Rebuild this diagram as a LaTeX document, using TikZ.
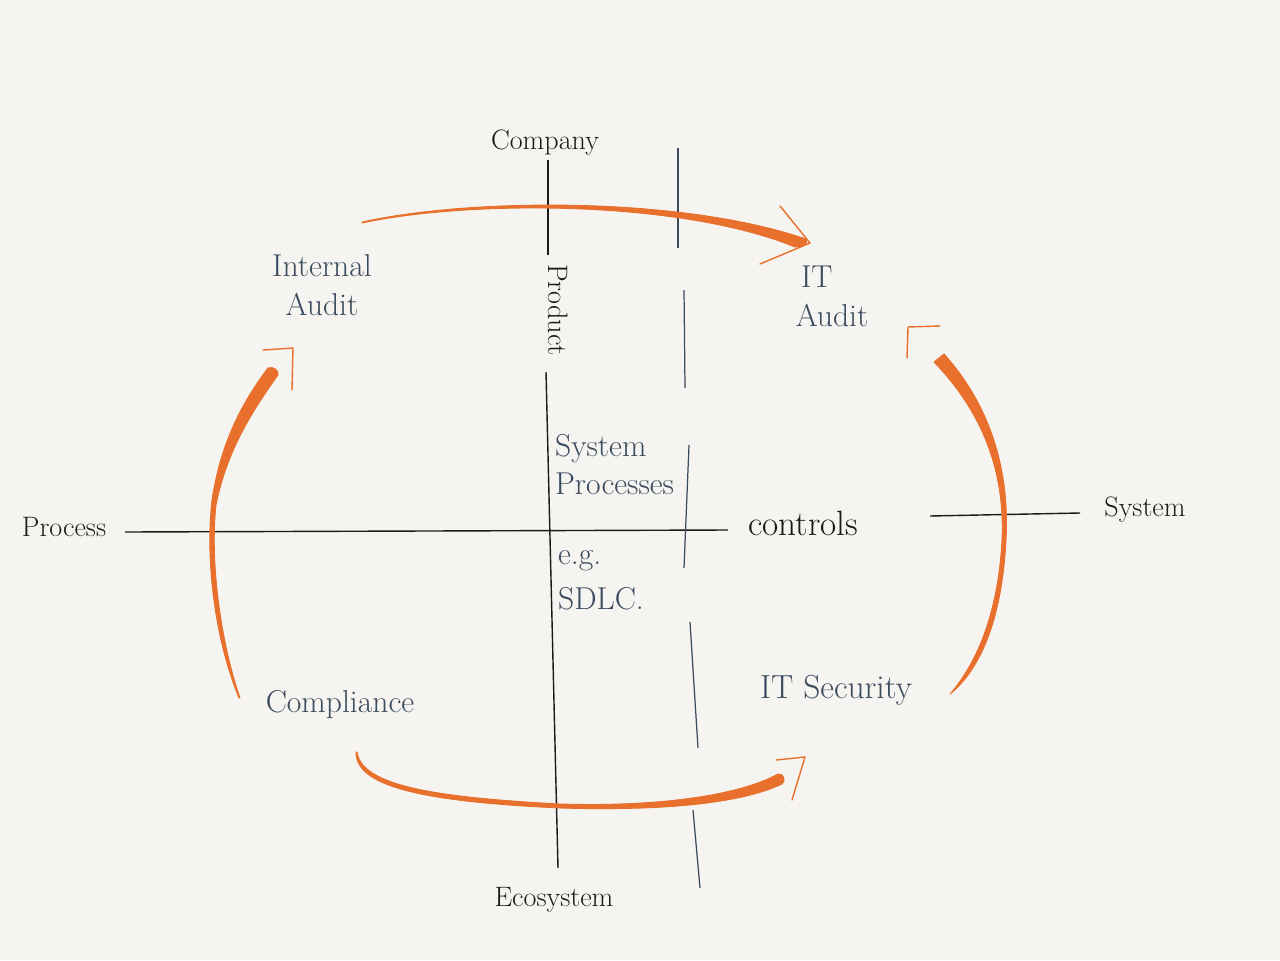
\documentclass[tikz,border=0pt]{standalone}
\usetikzlibrary{positioning}

\definecolor{paper}{HTML}{F5F4F0}
\definecolor{ink}{HTML}{1A1A1A}
\definecolor{slate}{HTML}{3B4B5E}
\definecolor{marker}{HTML}{E8702C}

\tikzset{
  axis/.style={draw=ink, line width=0.8pt},
  divider/.style={draw=slate, line width=0.7pt},
  axislabel/.style={text=ink, font=\fontsize{16}{18}\selectfont, inner sep=1pt},
  area/.style={text=slate, font=\fontsize{18}{22}\selectfont, align=center, inner sep=1pt},
  stroke/.style={fill=marker, draw=marker, line width=0.5pt, line join=round},
  tip/.style={draw=marker, line width=0.8pt, line cap=round, line join=round}
}

\begin{document}
\begin{tikzpicture}[x=0.02cm, y=-0.02cm]
\useasboundingbox[fill=paper] (0,0) rectangle (1280,960);

% axis labels
\node[axislabel] (company) at (545,143) {Company};
\node[axislabel] (ecosystem) at (554,900) {Ecosystem};
\node[axislabel] (process) at (64,527) {Process};
\node[axislabel, font=\fontsize{20}{22}\selectfont] (controls) at (803,523) {controls};
\node[axislabel] (system) at (1145,510) {System};
\node[axislabel, rotate=-90] (product) at (558,310) {Product};

% areas
\node[area] (internal) at (322,285) {Internal\\Audit};
\node[area, align=left] (itaudit) at (832,296) {\,IT\\Audit};
\node[area, align=left, anchor=north west] (sysproc) at (553,432) {System\\Processes};
\node[area, align=left, anchor=north west] (sdlc) at (556,548) {e.g.\\[4pt]SDLC.};
\node[area] (compliance) at (340,705) {Compliance};
\node[area, font=\fontsize{19}{22}\selectfont] (itsec) at (836,690) {IT Security};

% axis ends
\coordinate (top) at (548,160);
\coordinate (topgap) at (548,255);
\coordinate (midgap) at (546,372);
\coordinate (bottom) at (558,868);
\coordinate (left) at (125,532);
\coordinate (leftend) at (728,530);
\coordinate (rightstart) at (930,516);
\coordinate (right) at (1080,513);

% axes
\draw[axis] (top) -- (topgap);
\draw[axis] (midgap) -- (bottom);
\draw[axis] (left) -- (leftend);
\draw[axis] (rightstart) -- (right);

% dividing line
\draw[divider] (678,148) -- (678,248);
\draw[divider] (684,290) -- (685,388);
\draw[divider] (689,445) -- (684,568);
\draw[divider] (690,622) -- (698,748);
\draw[divider] (693,810) -- (700,888);

% arrows
\fill[stroke] (362,222) .. controls (470,198) and (680,196) .. (806,239)
  .. controls (809,244) and (802,248) .. (795,247)
  .. controls (680,200) and (470,200) .. (362,223) -- cycle;
\draw[tip] (780,206) -- (810,243) -- (760,264);

\fill[stroke] (944,354) .. controls (990,405) and (1010,470) .. (1006,540)
  .. controls (1002,620) and (980,670) .. (950,694)
  .. controls (976,664) and (998,615) .. (1002,540)
  .. controls (1005,470) and (982,412) .. (934,362) -- cycle;
\draw[tip] (907,358) -- (908,327) -- (940,326);

\fill[stroke] (239,698) .. controls (215,640) and (205,560) .. (212,500)
  .. controls (221,440) and (244,400) .. (268,368)
  .. controls (273,366) and (279,370) .. (278,375)
  .. controls (253,410) and (227,450) .. (216,505)
  .. controls (210,560) and (220,640) .. (240,698) -- cycle;
\draw[tip] (263,350) -- (293,348) -- (292,390);

\fill[stroke] (357,752) .. controls (362,785) and (430,797) .. (560,804)
  .. controls (660,807) and (740,795) .. (778,774)
  .. controls (784,773) and (786,781) .. (782,784)
  .. controls (740,804) and (660,811) .. (560,808)
  .. controls (430,802) and (355,788) .. (356,752) -- cycle;
\draw[tip] (776,760) -- (805,757) -- (792,800);
\end{tikzpicture}
\end{document}
